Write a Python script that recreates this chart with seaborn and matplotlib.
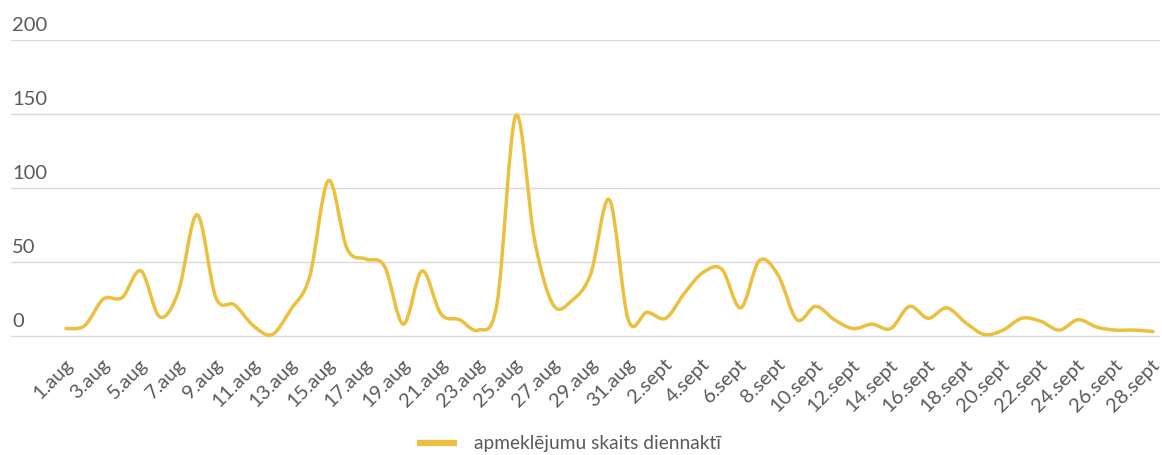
import numpy as np
import pandas as pd
import seaborn as sns
import matplotlib
matplotlib.use("Agg")
import matplotlib.pyplot as plt
import matplotlib.transforms as mtransforms
from matplotlib.path import Path
from matplotlib.patches import PathPatch
from matplotlib.lines import Line2D

# Daily visit counts, 1 Aug - 28 Sept
aug_days = [f"{d}.aug" for d in range(1, 32)]
sept_days = [f"{d}.sept" for d in range(1, 29)]
dates = aug_days + sept_days

visits = [5, 7, 25, 26, 44, 13, 30, 82, 26, 21,
          7, 1, 18, 40, 105, 59, 52, 47, 8, 44,
          15, 11, 4, 22, 149, 65, 21, 24, 42, 92,
          11, 16, 12, 29, 43, 45, 19, 51, 41, 11,
          20, 11, 5, 8, 5, 20, 12, 19, 9, 1,
          4, 12, 10, 4, 11, 6, 4, 4, 3]

series_label = "apmeklējumu skaits diennaktī"
y_ticks = [0, 50, 100, 150, 200]

LINE_COLOR = "#ebc03f"
GRID_COLOR = "#d9d9d9"
TEXT_COLOR = "#5a5a5a"

df = pd.DataFrame({"pos": np.arange(len(dates)), "date": dates, "visits": visits})

sns.set_theme(style="white")
plt.rcParams["font.family"] = ["Lato", "DejaVu Sans"]

W, H = 1162, 455
Y0_PX, Y200_PX = 336, 40          # pixel rows of the 0 and 200 gridlines
PX_PER_UNIT = (Y0_PX - Y200_PX) / 200
Y_MIN = -2
bottom_px = Y0_PX - Y_MIN * PX_PER_UNIT

fig = plt.figure(figsize=(W / 100, H / 100), dpi=100)
ax = fig.add_axes([11 / W, (H - bottom_px) / H, 1149 / W, (bottom_px - Y200_PX) / H])

# Raw series through seaborn (sets up scales); the visible stroke is a smooth spline
sns.lineplot(data=df, x="pos", y="visits", ax=ax, color=LINE_COLOR, legend=False)
ax.lines[0].set_visible(False)

# Catmull-Rom spline expressed as cubic Bezier segments in data coordinates
pts = df[["pos", "visits"]].to_numpy(dtype=float)
ext = np.vstack([pts[0], pts, pts[-1]])
verts = [tuple(pts[0])]
codes = [Path.MOVETO]
for i in range(len(pts) - 1):
    p0, p1, p2, p3 = ext[i], ext[i + 1], ext[i + 2], ext[i + 3]
    c1 = p1 + (p2 - p0) / 6.0
    c2 = p2 - (p3 - p1) / 6.0
    verts += [tuple(c1), tuple(c2), tuple(p2)]
    codes += [Path.CURVE4] * 3
curve = PathPatch(Path(verts, codes), facecolor="none", edgecolor=LINE_COLOR,
                  linewidth=2.5, capstyle="round", joinstyle="round",
                  transform=ax.transData, clip_on=False, zorder=3)
ax.add_patch(curve)

ax.set_xlim(-2.93, len(dates) - 1 + 0.37)
ax.set_ylim(Y_MIN, 200)

# Horizontal grid only
ax.set_yticks(y_ticks)
ax.yaxis.grid(True, color=GRID_COLOR, linewidth=1.0)
ax.xaxis.grid(False)
for s in ax.spines.values():
    s.set_visible(False)

ax.set_yticklabels([str(v) for v in y_ticks], ha="left", va="bottom")
ax.tick_params(axis="y", length=0, pad=-1, labelsize=14.5, colors=TEXT_COLOR)
# lift labels above their gridlines
y_offset = mtransforms.ScaledTranslation(0, 6 / 100, fig.dpi_scale_trans)
for lab in ax.get_yticklabels():
    lab.set_transform(lab.get_transform() + y_offset)

tick_pos = list(range(0, len(dates), 2))
ax.set_xticks(tick_pos)
ax.set_xticklabels([dates[i] for i in tick_pos], rotation=45, ha="right",
                   va="center", rotation_mode="anchor")
ax.tick_params(axis="x", length=0, pad=13, labelsize=14.5, colors=TEXT_COLOR)
x_offset = mtransforms.ScaledTranslation(4 / 100, -5 / 100, fig.dpi_scale_trans)
for lab in ax.get_xticklabels():
    lab.set_transform(lab.get_transform() + x_offset)
ax.set_xlabel("")
ax.set_ylabel("")

handle = Line2D([], [], color=LINE_COLOR, linewidth=4.5, solid_capstyle="butt")
fig.legend([handle], [series_label], loc="center", bbox_to_anchor=(569 / W, 1 - 444 / H),
           frameon=False, fontsize=13.8, handlelength=2.08, handletextpad=0.85,
           labelcolor=TEXT_COLOR)

fig.savefig("out.png", dpi=100, facecolor="white")
